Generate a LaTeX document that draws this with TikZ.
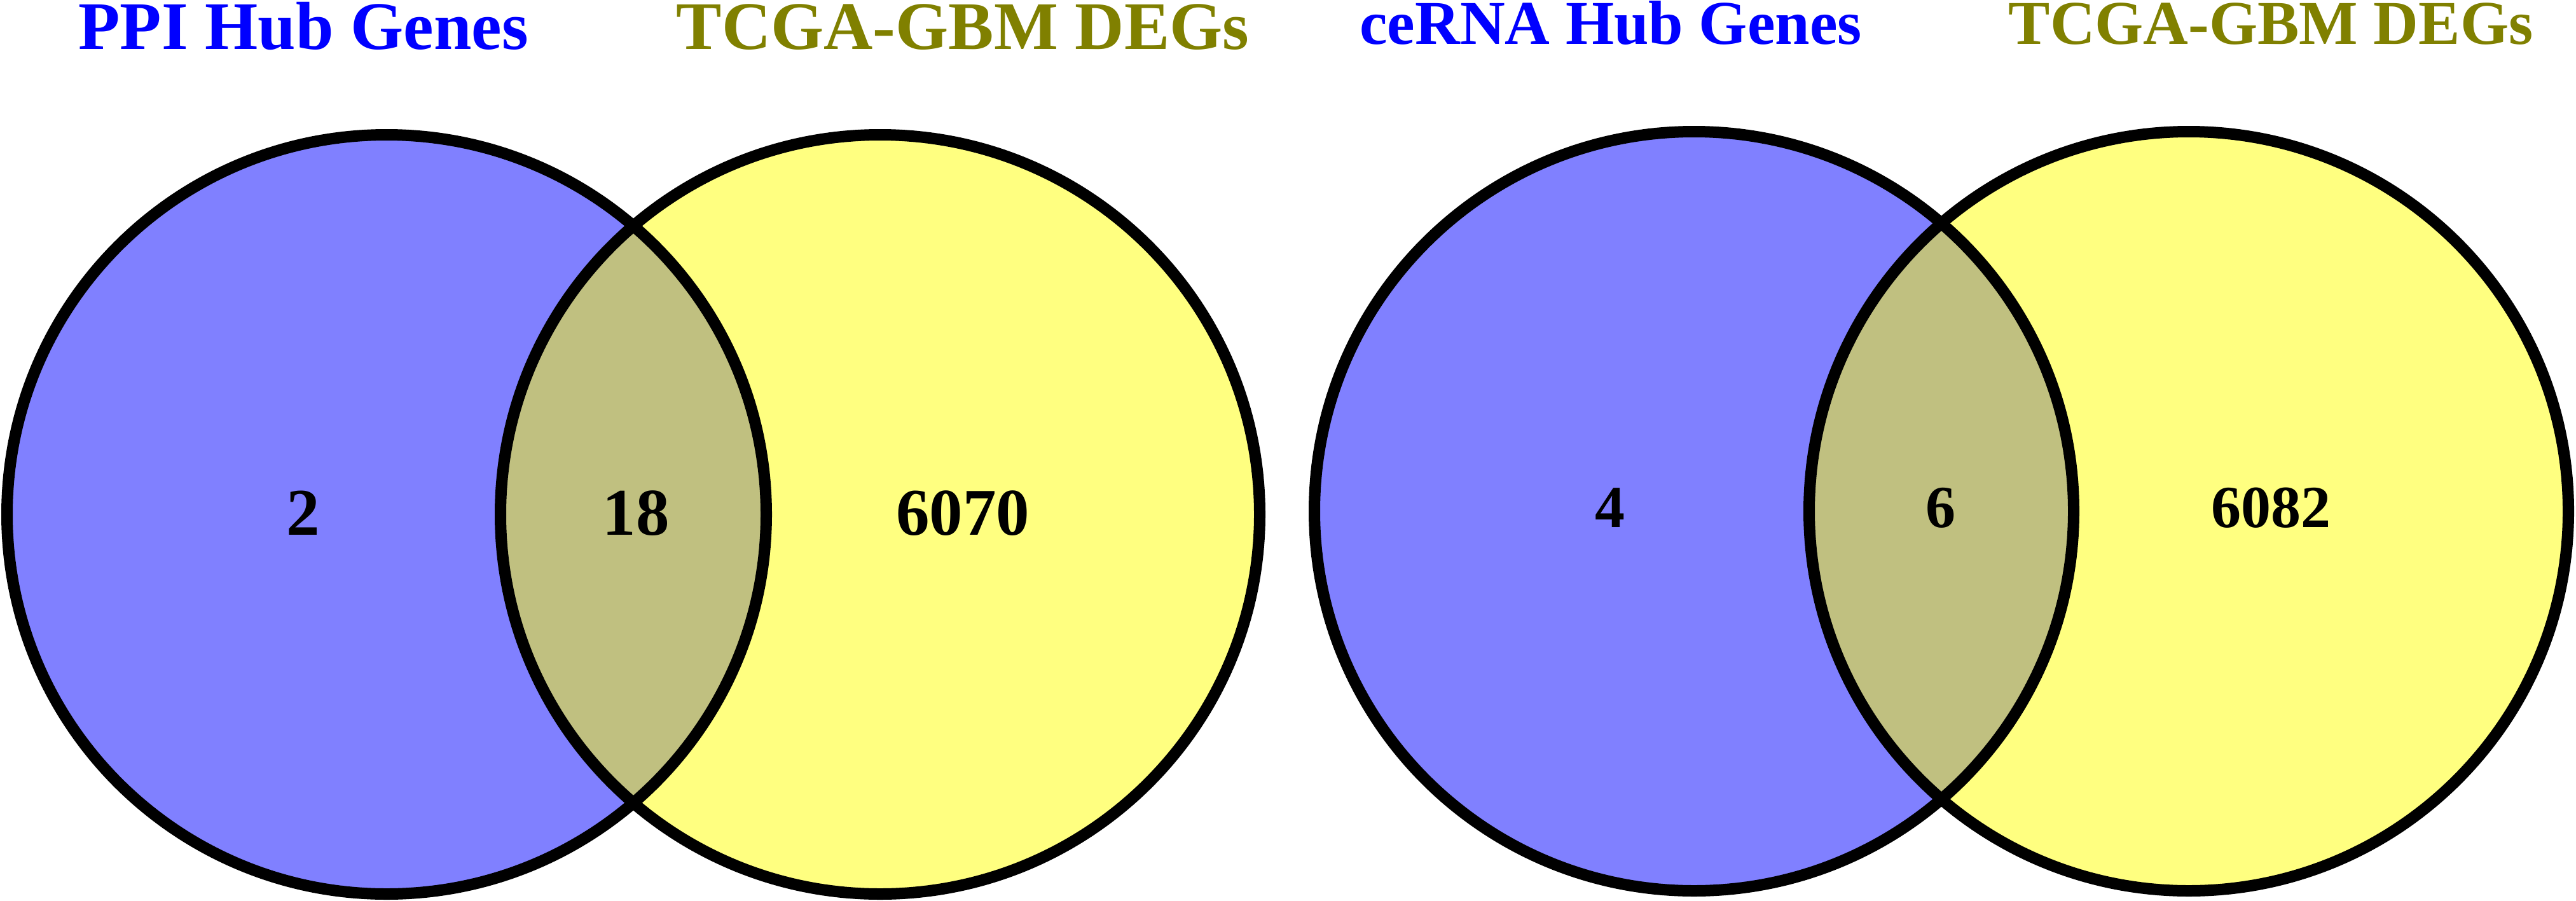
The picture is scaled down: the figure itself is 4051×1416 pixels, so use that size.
\documentclass[tikz,border=0pt]{standalone}
\usepackage{fontspec}
\setmainfont{Liberation Serif}
\definecolor{vblue}{RGB}{128,128,255}
\definecolor{vyellow}{RGB}{255,255,128}
\definecolor{vover}{RGB}{192,192,128}
\definecolor{tblue}{RGB}{0,0,255}
\definecolor{tolive}{RGB}{128,128,0}
\begin{document}
\begin{tikzpicture}[x=0.1pt,y=-0.1pt,
  outline/.style={draw=black,line width=1.8pt},
  ltitle/.style={font=\bfseries\fontsize{10.7}{12}\selectfont,inner sep=0pt,anchor=base},
  rtitle/.style={font=\bfseries\fontsize{9.8}{11}\selectfont,inner sep=0pt,anchor=base},
  lnum/.style={font=\bfseries\fontsize{10.5}{12}\selectfont,inner sep=0pt,anchor=center},
  rnum/.style={font=\bfseries\fontsize{9.4}{11}\selectfont,inner sep=0pt,anchor=center}]
\useasboundingbox (0,0) rectangle (4051,1416);
% left diagram
\coordinate (A1) at (608,809);
\coordinate (B1) at (1384,809);
\fill[vblue] (A1) circle (597);
\fill[vyellow] (B1) circle (597);
\begin{scope}
  \clip (A1) circle (597);
  \fill[vover] (B1) circle (597);
\end{scope}
\draw[outline] (A1) circle (597) (B1) circle (597);
% right diagram
\coordinate (A2) at (2664,804);
\coordinate (B2) at (3442,804);
\fill[vblue] (A2) circle (597);
\fill[vyellow] (B2) circle (597);
\begin{scope}
  \clip (A2) circle (597);
  \fill[vover] (B2) circle (597);
\end{scope}
\draw[outline] (A2) circle (597) (B2) circle (597);
% titles
\node[ltitle,text=tblue] (t1) at (477,78) {PPI Hub Genes};
\node[ltitle,text=tolive] (t2) at (1514,78) {TCGA-GBM DEGs};
\node[rtitle,text=tblue] (t3) at (2533,70) {ceRNA Hub Genes};
\node[rtitle,text=tolive] (t4) at (3571,70) {TCGA-GBM DEGs};
% numbers
\node[lnum] (n1) at (477,807) {2};
\node[lnum] (n2) at (1000,807) {18};
\node[lnum] (n3) at (1514,807) {6070};
\node[rnum] (n4) at (2532,799) {4};
\node[rnum] (n5) at (3052,799) {6};
\node[rnum] (n6) at (3571,799) {6082};
\end{tikzpicture}
\end{document}
